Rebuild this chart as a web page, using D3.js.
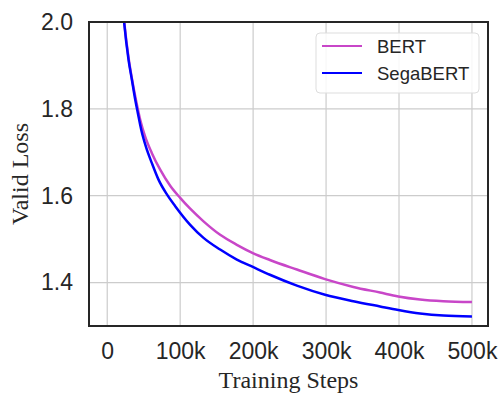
<!DOCTYPE html>
<html>
<head>
<meta charset="utf-8">
<script src="https://cdn.jsdelivr.net/npm/d3@7"></script>
<style>
  body { margin: 0; background: #fff; }
  svg { display: block; }
</style>
</head>
<body>
<div id="chart"></div>
<script>
// training steps (in thousands) and validation loss
const bertSteps = [15, 19, 23.3, 29.2, 33.8, 39.3, 45.2, 52, 61.2, 72.6, 86.3, 100, 113.7, 132, 154.8, 177.7, 199.6, 223, 260, 298.6, 337.4, 374, 399, 428.8, 460.7, 500];
const bertLoss = [2.19, 2.08, 2.0, 1.918, 1.87, 1.821, 1.775, 1.736, 1.698, 1.66, 1.623, 1.595, 1.57, 1.541, 1.51, 1.487, 1.468, 1.452, 1.43, 1.408, 1.39, 1.377, 1.368, 1.361, 1.357, 1.355];

const segaSteps = [15, 19, 23.3, 29.2, 33.8, 38.4, 42, 46.6, 53, 61.2, 70.3, 81.8, 93.2, 113.7, 132, 154.8, 177.7, 199.6, 223, 260, 298.6, 337.4, 374, 399, 428.8, 460.7, 500];
const segaLoss = [2.19, 2.08, 1.997, 1.913, 1.867, 1.821, 1.79, 1.752, 1.713, 1.675, 1.637, 1.603, 1.576, 1.533, 1.503, 1.476, 1.453, 1.436, 1.418, 1.393, 1.372, 1.357, 1.345, 1.337, 1.329, 1.324, 1.322];

const xTicks = [0, 100, 200, 300, 400, 500];
const yTicks = [1.4, 1.6, 1.8, 2.0];

const series = [
  { name: 'BERT', color: '#c846c8', steps: bertSteps, loss: bertLoss },
  { name: 'SegaBERT', color: '#0000ff', steps: segaSteps, loss: segaLoss }
];

const W = 501, H = 395;
const margin = { top: 22, right: 13, bottom: 69, left: 89 };
const width = W - margin.left - margin.right;
const height = H - margin.top - margin.bottom;

const svg = d3.select('#chart').append('svg')
  .attr('width', W)
  .attr('height', H);

const chart = svg.append('g')
  .attr('transform', `translate(${margin.left}, ${margin.top})`);

const xScale = d3.scaleLinear().domain([-25, 522]).range([0, width]);
const yScale = d3.scaleLinear().domain([1.3, 2.0]).range([height, 0]);

// grid
chart.append('g')
  .selectAll('line')
  .data(xTicks)
  .enter().append('line')
  .attr('x1', d => xScale(d)).attr('x2', d => xScale(d))
  .attr('y1', 0).attr('y2', height)
  .style('stroke', '#cccccc').style('stroke-width', 1.2);

chart.append('g')
  .selectAll('line')
  .data(yTicks)
  .enter().append('line')
  .attr('x1', 0).attr('x2', width)
  .attr('y1', d => yScale(d)).attr('y2', d => yScale(d))
  .style('stroke', '#cccccc').style('stroke-width', 1.2);

// axes (tick labels only)
const xAxis = chart.append('g')
  .attr('transform', `translate(0, ${height})`)
  .call(d3.axisBottom(xScale).tickValues(xTicks).tickSize(0).tickPadding(17)
    .tickFormat(d => d === 0 ? '0' : d + 'k'));
const yAxis = chart.append('g')
  .call(d3.axisLeft(yScale).tickValues(yTicks).tickSize(0).tickPadding(16)
    .tickFormat(d3.format('.1f')));

[xAxis, yAxis].forEach(a => {
  a.select('.domain').remove();
  a.selectAll('text')
    .style('font-family', '"Liberation Sans", Arial, sans-serif')
    .style('font-size', '23px')
    .style('fill', '#262626');
});

// curves
chart.append('clipPath').attr('id', 'clip')
  .append('rect').attr('width', width).attr('height', height);

const line = d3.line()
  .x(d => xScale(d[0]))
  .y(d => yScale(d[1]))
  .curve(d3.curveMonotoneX);

chart.append('g').attr('clip-path', 'url(#clip)')
  .selectAll('path')
  .data(series)
  .enter().append('path')
  .attr('d', s => line(s.steps.map((x, i) => [x, s.loss[i]])))
  .style('fill', 'none')
  .style('stroke', s => s.color)
  .style('stroke-width', 2.5);

// frame
chart.append('rect')
  .attr('width', width).attr('height', height)
  .style('fill', 'none')
  .style('stroke', '#262626')
  .style('stroke-width', 2);

// legend
const legend = chart.append('g')
  .attr('transform', `translate(${316 - margin.left}, ${33 - margin.top})`);
legend.append('rect')
  .attr('width', 163).attr('height', 60)
  .attr('rx', 4)
  .style('fill', 'rgba(255,255,255,0.85)')
  .style('stroke', '#dddddd')
  .style('stroke-width', 1);
const items = legend.selectAll('g.item')
  .data(series)
  .enter().append('g')
  .attr('class', 'item')
  .attr('transform', (d, i) => `translate(0, ${13 + i * 27})`);
items.append('line')
  .attr('x1', 6).attr('x2', 46)
  .attr('y1', 0).attr('y2', 0)
  .style('stroke', d => d.color)
  .style('stroke-width', 2.2);
items.append('text')
  .attr('x', 61).attr('y', 7)
  .text(d => d.name)
  .style('font-family', '"Liberation Sans", Arial, sans-serif')
  .style('font-size', '18.5px')
  .style('fill', '#262626');

// axis titles
svg.append('text')
  .attr('x', margin.left + width / 2).attr('y', 388)
  .attr('text-anchor', 'middle')
  .text('Training Steps')
  .style('font-family', '"Liberation Serif", "Times New Roman", serif')
  .style('font-size', '24px')
  .style('fill', '#262626');

svg.append('text')
  .attr('transform', `translate(28, ${margin.top + height / 2}) rotate(-90)`)
  .attr('text-anchor', 'middle')
  .text('Valid Loss')
  .style('font-family', '"Liberation Serif", "Times New Roman", serif')
  .style('font-size', '24px')
  .style('fill', '#262626');
</script>
</body>
</html>
